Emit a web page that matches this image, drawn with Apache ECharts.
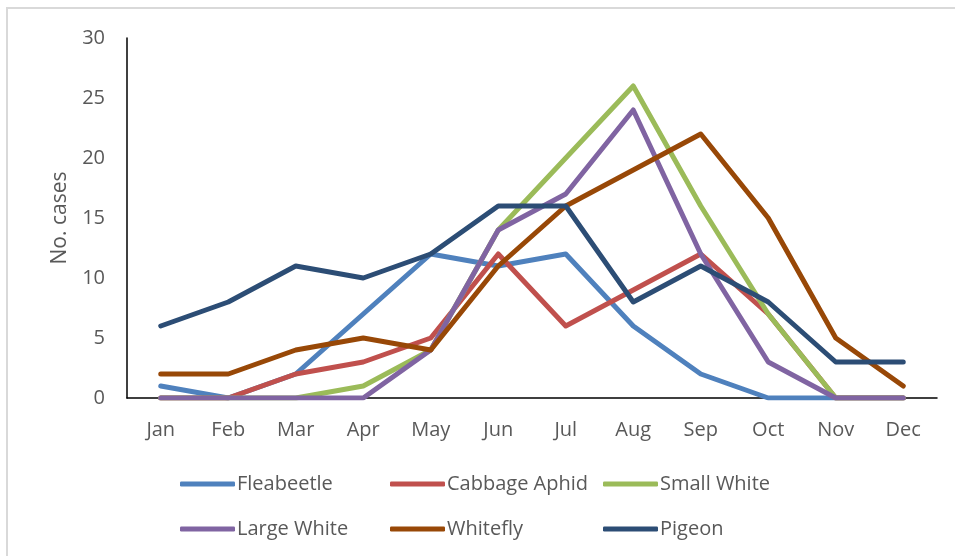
<!DOCTYPE html>
<html>
<head>
<meta charset="utf-8">
<script src="https://cdn.jsdelivr.net/npm/echarts@6/dist/echarts.min.js"></script>
<style>html,body{margin:0;padding:0;background:#fff}#c{width:955px;height:556px}</style>
</head>
<body>
<div id="c"></div>
<script>
const months = ['Jan','Feb','Mar','Apr','May','Jun','Jul','Aug','Sep','Oct','Nov','Dec'];
const fleabeetle   = [1, 0, 2, 7, 12, 11, 12, 6, 2, 0, 0, 0];
const cabbageAphid = [0, 0, 2, 3, 5, 12, 6, 9, 12, 7, 0, 0];
const smallWhite   = [0, 0, 0, 1, 4, 14, 20, 26, 16, 7, 0, 0];
const largeWhite   = [0, 0, 0, 0, 4, 14, 17, 24, 12, 3, 0, 0];
const whitefly     = [2, 2, 4, 5, 4, 11, 16, 19, 22, 15, 5, 1];
const pigeon       = [6, 8, 11, 10, 12, 16, 16, 8, 11, 8, 3, 3];
const seriesNames  = ['Fleabeetle','Cabbage Aphid','Small White','Large White','Whitefly','Pigeon'];
const seriesData   = [fleabeetle, cabbageAphid, smallWhite, largeWhite, whitefly, pigeon];
const colors = ['#4F81BD','#C0504D','#9BBB59','#8064A2','#984807','#2C4D75'];
const yTicks = [0, 5, 10, 15, 20, 25, 30];

const font = 'Open Sans';
const txt = '#595959';

const legendPos = [[175,469],[385,469],[598,469],[175,514],[385,514],[598,514]];
const legends = seriesNames.map((n,i)=>({
  data:[n], left: legendPos[i][0], top: legendPos[i][1],
  icon: 'roundRect', itemWidth: 55, itemHeight: 5, itemGap: 0,
  textStyle:{fontFamily:font, fontSize:20, color:txt, padding:[0,0,0,-3]},
  selectedMode:false
}));

const chart = echarts.init(document.getElementById('c'), null, {renderer:'canvas'});
chart.setOption({
  animation:false,
  backgroundColor:'#fff',
  color: colors,
  graphic:[
    {type:'polyline', shape:{points:[[7,556],[7,8],[955,8]]}, style:{stroke:'#D9D9D9', lineWidth:2, fill:null}, silent:true}
  ],
  legend: legends,
  grid:{left:127, right:18, top:38, bottom:158, containLabel:false},
  xAxis:{
    type:'category', data: months, boundaryGap:true,
    axisLine:{lineStyle:{color:'#000', width:1.5}},
    axisTick:{show:false},
    axisLabel:{fontFamily:font, fontSize:20, color:txt, margin:22}
  },
  yAxis:{
    type:'value', min:0, max:30, interval:5,
    name:'No. cases', nameLocation:'middle', nameGap:56,
    nameTextStyle:{fontFamily:font, fontSize:21, color:txt},
    axisLine:{show:true, lineStyle:{color:'#000', width:1.5}},
    axisTick:{show:false},
    splitLine:{show:false},
    axisLabel:{fontFamily:font, fontSize:20, color:txt, margin:22,
      formatter:(v)=> yTicks.includes(v) ? String(v) : ''}
  },
  series: seriesNames.map((n,i)=>({
    name:n, type:'line', data: seriesData[i], symbol:'none',
    lineStyle:{width:5, color:colors[i], cap:'round', join:'round'},
    itemStyle:{color:colors[i]}
  }))
});
</script>
</body>
</html>
